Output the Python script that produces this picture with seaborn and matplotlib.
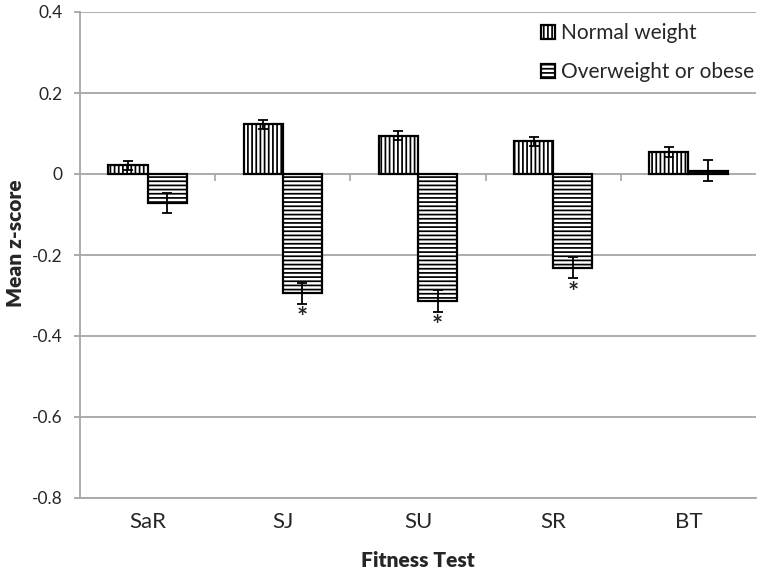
import numpy as np
import pandas as pd
import matplotlib
matplotlib.use("Agg")
import matplotlib.pyplot as plt
import seaborn as sns

# ---- data ----
tests = ["SaR", "SJ", "SU", "SR", "BT"]
groups = ["Normal weight", "Overweight or obese"]
normal_mean = [0.022, 0.123, 0.095, 0.081, 0.054]
normal_se = [0.011, 0.011, 0.011, 0.011, 0.012]
over_mean = [-0.071, -0.295, -0.313, -0.231, 0.008]
over_se = [0.025, 0.025, 0.027, 0.027, 0.026]
over_significant = [False, True, True, True, False]
y_ticks = [-0.8, -0.6, -0.4, -0.2, 0.0, 0.2, 0.4]
y_tick_labels = ["-0.8", "-0.6", "-0.4", "-0.2", "0", "0.2", "0.4"]

df = pd.DataFrame({
    "test": tests * 2,
    "group": [groups[0]] * len(tests) + [groups[1]] * len(tests),
    "mean": normal_mean + over_mean,
    "se": normal_se + over_se,
    "sig": [False] * len(tests) + over_significant,
})

sns.set_style("white")
plt.rcParams["font.family"] = ["Lato", "DejaVu Sans"]
plt.rcParams["hatch.linewidth"] = 1.25
plt.rcParams["hatch.color"] = "black"

GRID = "#a6a6a6"
fig = plt.figure(figsize=(7.6, 5.75), dpi=100)
ax = fig.add_axes([80 / 760, 1 - 498 / 575, (756 - 80) / 760, (498 - 12) / 575])

sns.barplot(data=df, x="test", y="mean", hue="group", order=tests,
            hue_order=groups, palette=["white", "white"], edgecolor="black",
            linewidth=1.6, width=0.58, errorbar=None, legend=False, ax=ax,
            zorder=3)

hatches = ["||||", "----"]
for cont, h, g in zip(ax.containers, hatches, groups):
    sub = df[df["group"] == g].set_index("test").loc[tests]
    for patch, m, se, sig in zip(cont.patches, sub["mean"], sub["se"], sub["sig"]):
        patch.set_hatch(h)
        xc = patch.get_x() + patch.get_width() / 2
        ax.errorbar(xc, m, yerr=se, fmt="none", ecolor="black",
                    elinewidth=1.3, capsize=3.5, capthick=1.3, zorder=4)
        if sig:
            ax.annotate("*", xy=(xc, m - se), xytext=(0, -2),
                        textcoords="offset points", ha="center", va="top",
                        fontsize=19, fontweight="bold")

ax.set_ylim(-0.8, 0.4)
ax.set_xlim(-0.5, len(tests) - 0.5)
ax.set_yticks(y_ticks)
ax.set_yticklabels(y_tick_labels)
ax.yaxis.grid(True, color=GRID, lw=1.3)
ax.set_axisbelow(True)
for s in ["top", "right"]:
    ax.spines[s].set_visible(False)
for s in ["left", "bottom"]:
    ax.spines[s].set_color(GRID)
    ax.spines[s].set_linewidth(1.3)

ax.tick_params(axis="y", length=4.5, width=1.3, color=GRID, pad=8,
               labelsize=12.5, left=True)
ax.tick_params(axis="x", length=0, pad=10, labelsize=16)

# small ticks on the zero line between categories
sec = ax.secondary_xaxis(2 / 3)
sec.set_xticks(np.arange(len(tests) - 1) + 0.5)
sec.tick_params(axis="x", direction="in", length=5, width=1.2, color=GRID,
                labeltop=False, labelbottom=False)
for sp in sec.spines.values():
    sp.set_visible(False)

ax.set_xlabel("Fitness Test", fontsize=15, fontweight="heavy", labelpad=14)
ax.set_ylabel("Mean z-score", fontsize=15, fontweight="heavy", labelpad=5,
              y=0.525)

ax.legend(ax.containers, groups, loc="upper right", frameon=False,
          fontsize=15, labelspacing=0.9, handlelength=0.65, handleheight=0.65,
          handletextpad=0.3, bbox_to_anchor=(1.025, 1.015))

fig.savefig("out.png", dpi=100)
